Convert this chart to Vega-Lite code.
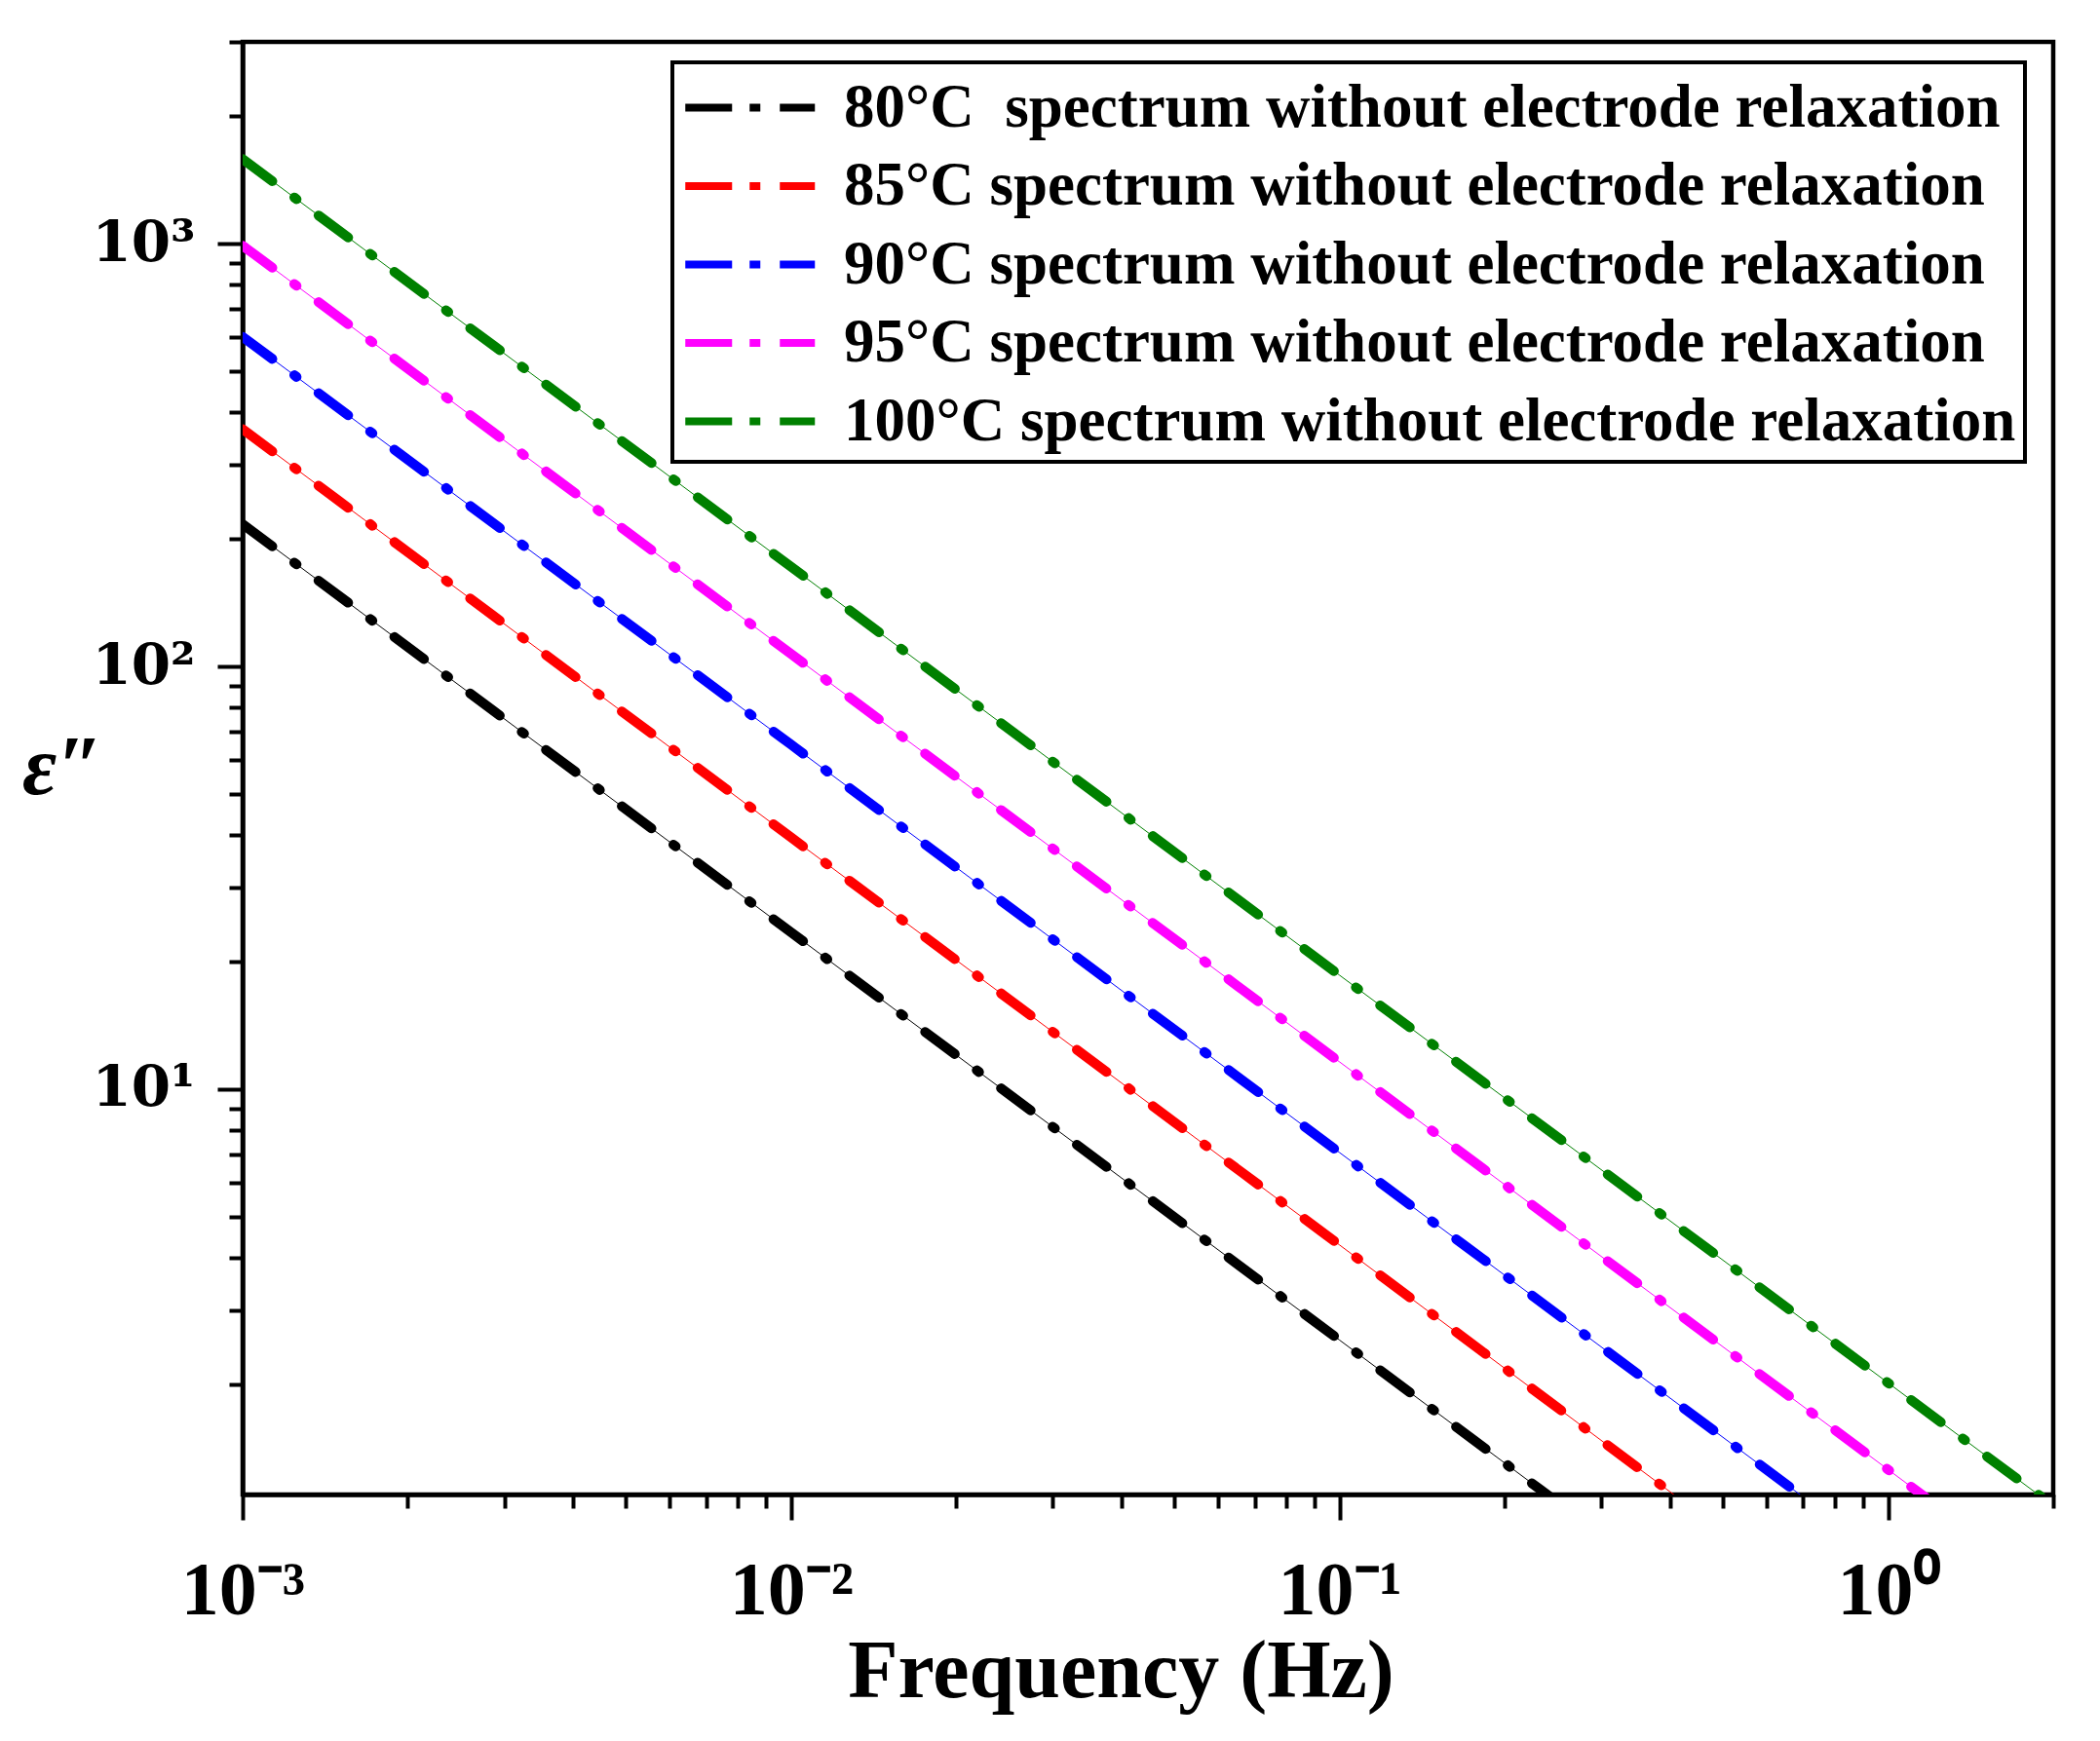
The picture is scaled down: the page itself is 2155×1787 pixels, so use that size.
{
  "$schema": "https://vega.github.io/schema/vega-lite/v6.json",
  "width": 1858,
  "height": 1491,
  "autosize": "none",
  "padding": {"left": 249, "top": 43, "right": 48, "bottom": 253},
  "background": "white",
  "data": {
    "values": [
      {"f": 0.001, "e": 217, "s": "80°C\u00a0 spectrum without electrode relaxation"},
      {"f": 0.01, "e": 23.5, "s": "80°C\u00a0 spectrum without electrode relaxation"},
      {"f": 0.1, "e": 2.55, "s": "80°C\u00a0 spectrum without electrode relaxation"},
      {"f": 1, "e": 0.276, "s": "80°C\u00a0 spectrum without electrode relaxation"},
      {"f": 2, "e": 0.14, "s": "80°C\u00a0 spectrum without electrode relaxation"},
      {"f": 0.001, "e": 364, "s": "85°C spectrum without electrode relaxation"},
      {"f": 0.01, "e": 39.4, "s": "85°C spectrum without electrode relaxation"},
      {"f": 0.1, "e": 4.28, "s": "85°C spectrum without electrode relaxation"},
      {"f": 1, "e": 0.46, "s": "85°C spectrum without electrode relaxation"},
      {"f": 2, "e": 0.237, "s": "85°C spectrum without electrode relaxation"},
      {"f": 0.001, "e": 602, "s": "90°C spectrum without electrode relaxation"},
      {"f": 0.01, "e": 65.3, "s": "90°C spectrum without electrode relaxation"},
      {"f": 0.1, "e": 7.08, "s": "90°C spectrum without electrode relaxation"},
      {"f": 1, "e": 0.77, "s": "90°C spectrum without electrode relaxation"},
      {"f": 2, "e": 0.39, "s": "90°C spectrum without electrode relaxation"},
      {"f": 0.001, "e": 989, "s": "95°C spectrum without electrode relaxation"},
      {"f": 0.01, "e": 107, "s": "95°C spectrum without electrode relaxation"},
      {"f": 0.1, "e": 11.6, "s": "95°C spectrum without electrode relaxation"},
      {"f": 1, "e": 1.26, "s": "95°C spectrum without electrode relaxation"},
      {"f": 2, "e": 0.645, "s": "95°C spectrum without electrode relaxation"},
      {"f": 0.001, "e": 1585, "s": "100°C spectrum without electrode relaxation"},
      {"f": 0.01, "e": 172, "s": "100°C spectrum without electrode relaxation"},
      {"f": 0.1, "e": 18.6, "s": "100°C spectrum without electrode relaxation"},
      {"f": 1, "e": 2.02, "s": "100°C spectrum without electrode relaxation"},
      {"f": 2, "e": 1.035, "s": "100°C spectrum without electrode relaxation"}
    ]
  },
  "layer": [
    {
      "mark": {"type": "line", "strokeWidth": 1, "clip": true},
      "encoding": {
        "x": {
          "field": "f", "type": "quantitative",
          "scale": {"type": "log", "domain": [0.001, 2], "nice": false},
          "axis": {
            "orient": "bottom",
            "values": [0.001, 0.01, 0.1, 1],
            "tickSize": 26,
            "labelExpr": "datum.value < 0.005 ? '10⁻³' : datum.value < 0.05 ? '10⁻²' : datum.value < 0.5 ? '10⁻¹' : '10⁰'",
            "labelFont": "Liberation Serif",
            "labelFontWeight": "bold",
            "labelFontSize": 78,
            "labelBaseline": "top",
            "labelAlign": "center",
            "labelPadding": 34,
            "labelFlush": false,
            "labelOverlap": false,
            "title": "Frequency (Hz)",
            "titleFont": "Liberation Serif",
            "titleFontWeight": "bold",
            "titleFontSize": 84,
            "titleX": 901,
            "titleY": 207,
            "titleAlign": "center",
            "titleBaseline": "alphabetic"
          }
        },
        "y": {
          "field": "e", "type": "quantitative",
          "scale": {"type": "log", "domain": [1.1, 3000], "nice": false},
          "axis": {
            "orient": "left",
            "values": [10, 100, 1000],
            "tickSize": 26,
            "labelExpr": "datum.value < 50 ? '10¹' : datum.value < 500 ? '10²' : '10³'",
            "labelFont": "DejaVu Serif",
            "labelFontWeight": "bold",
            "labelFontSize": 58,
            "labelBaseline": "middle",
            "labelPadding": 23,
            "labelFlush": false,
            "labelOverlap": false,
            "title": "ε″",
            "titleAngle": 0,
            "titleFont": "Liberation Serif",
            "titleFontStyle": "italic",
            "titleFontWeight": "bold",
            "titleFontSize": 86,
            "titleX": -185,
            "titleY": 745,
            "titleAlign": "center",
            "titleBaseline": "middle"
          }
        },
        "color": {
          "field": "s", "type": "nominal",
          "scale": {
            "domain": [
              "80°C\u00a0 spectrum without electrode relaxation",
              "85°C spectrum without electrode relaxation",
              "90°C spectrum without electrode relaxation",
              "95°C spectrum without electrode relaxation",
              "100°C spectrum without electrode relaxation"
            ],
            "range": ["#000000", "#ff0000", "#0000ff", "#ff00ff", "#008000"]
          },
          "legend": {
            "title": null,
            "orient": "none",
            "legendX": 441,
            "legendY": 21,
            "padding": 9,
            "strokeColor": "black",
            "fillColor": "white",
            "labelFont": "Liberation Serif",
            "labelFontWeight": "bold",
            "labelFontSize": 63,
            "labelColor": "black",
            "labelOffset": 92,
            "labelLimit": 3000,
            "symbolType": "M-1,0H3",
            "symbolSize": 4422,
            "symbolStrokeWidth": 8,
            "symbolDash": [48, 18, 11, 20],
            "rowPadding": 10.5
          }
        }
      }
    },
    {
      "mark": {"type": "line", "strokeWidth": 10, "strokeCap": "round", "strokeDash": [38, 28, 3, 28], "clip": true},
      "encoding": {
        "x": {
          "field": "f", "type": "quantitative",
          "axis": {
            "orient": "bottom",
            "values": [0.002, 0.003, 0.004, 0.005, 0.006, 0.007, 0.008, 0.009, 0.02, 0.03, 0.04, 0.05, 0.06, 0.07, 0.08, 0.09, 0.2, 0.3, 0.4, 0.5, 0.6, 0.7, 0.8, 0.9, 2],
            "tickSize": 14,
            "labels": false,
            "domain": false,
            "title": null
          }
        },
        "y": {
          "field": "e", "type": "quantitative",
          "axis": {
            "orient": "left",
            "values": [2, 3, 4, 5, 6, 7, 8, 9, 20, 30, 40, 50, 60, 70, 80, 90, 200, 300, 400, 500, 600, 700, 800, 900, 2000, 3000],
            "tickSize": 14,
            "labels": false,
            "domain": false,
            "title": null
          }
        },
        "color": {"field": "s", "type": "nominal"}
      }
    }
  ],
  "resolve": {"axis": {"x": "independent", "y": "independent"}},
  "config": {
    "view": {"stroke": "black", "strokeWidth": 4.5},
    "axis": {
      "domainColor": "black",
      "domainWidth": 4.5,
      "tickColor": "black",
      "tickWidth": 4,
      "grid": false,
      "labelColor": "black",
      "titleColor": "black"
    },
    "legend": {"strokeWidth": 4}
  }
}
